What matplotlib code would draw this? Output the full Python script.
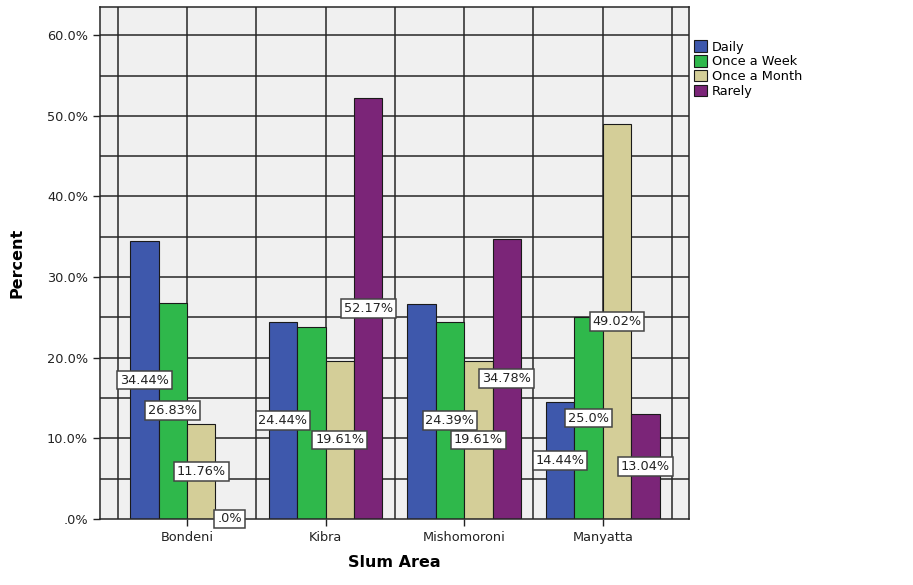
import matplotlib
matplotlib.use("Agg")
import matplotlib.pyplot as plt
import numpy as np

plt.rcParams["font.family"] = ["DejaVu Sans"]

areas = ["Bondeni", "Kibra", "Mishomoroni", "Manyatta"]
series = ["Daily", "Once a Week", "Once a Month", "Rarely"]

daily = [34.44, 24.44, 26.67, 14.44]
once_week = [26.83, 23.81, 24.39, 25.0]
once_month = [11.76, 19.61, 19.61, 49.02]
rarely = [0.0, 52.17, 34.78, 13.04]

# which bars carry a value box (two are left without one)
daily_lbl = [True, True, False, True]
week_lbl = [True, False, True, True]
month_lbl = [True, True, True, True]
rarely_lbl = [True, True, True, True]

colors = ["#3e58ac", "#2fb84b", "#d4ce98", "#7b2578"]


def spss_pct(v):
    s = f"{v:.2f}".rstrip("0")
    if s.endswith("."):
        s += "0"
    if s.startswith("0."):
        s = s[1:]
    return s + "%"


fig = plt.figure(figsize=(9.13, 5.85), dpi=100)
ax = fig.add_axes([0.1095, 0.113, 0.6455, 0.875])
ax.set_facecolor("#f0f0f0")

x = np.arange(len(areas))
width = 0.205
all_vals = [daily, once_week, once_month, rarely]
all_lbl = [daily_lbl, week_lbl, month_lbl, rarely_lbl]

for yv in np.arange(5, 65, 5):
    ax.axhline(yv, color="#262626", lw=1.1, zorder=0.5)
for xv in np.arange(-0.5, 4.0, 0.5):
    ax.axvline(xv, color="#262626", lw=1.1, zorder=0.5)

for i, (name, vals, flags, col) in enumerate(zip(series, all_vals, all_lbl, colors)):
    xs = x + (i - 1.5) * width
    ax.bar(xs, vals, width, color=col, edgecolor="#1a1a1a", lw=0.8,
           label=name, zorder=2)
    for xi, v, show in zip(xs, vals, flags):
        if not show:
            continue
        ax.text(xi, v / 2, spss_pct(v), ha="center", va="center",
                fontsize=9.3, color="#222222", zorder=4,
                bbox=dict(boxstyle="square,pad=0.22", fc="white",
                          ec="#444444", lw=1.1))

ax.set_xlim(-0.628, 3.625)
ax.set_ylim(0, 63.5)
ax.set_yticks(np.arange(0, 61, 10))
ax.set_yticklabels([spss_pct(v) for v in np.arange(0, 61, 10)])
ax.set_xticks(x)
ax.set_xticklabels(areas)
ax.tick_params(axis="both", labelsize=9.3, colors="#222222", length=5,
               width=1.0, direction="out")
for sp in ax.spines.values():
    sp.set_color("#262626")
    sp.set_linewidth(1.1)

ax.set_ylabel("Percent", fontsize=11.5, fontweight="bold", labelpad=16)
ax.set_xlabel("Slum Area", fontsize=11.5, fontweight="bold", labelpad=8)

ax.legend(loc="upper left", bbox_to_anchor=(0.995, 0.95), frameon=False,
          fontsize=9.3, handlelength=1.0, handleheight=1.0, handletextpad=0.35,
          labelspacing=0.12, borderaxespad=0.2)

fig.savefig("out.png", dpi=100)
